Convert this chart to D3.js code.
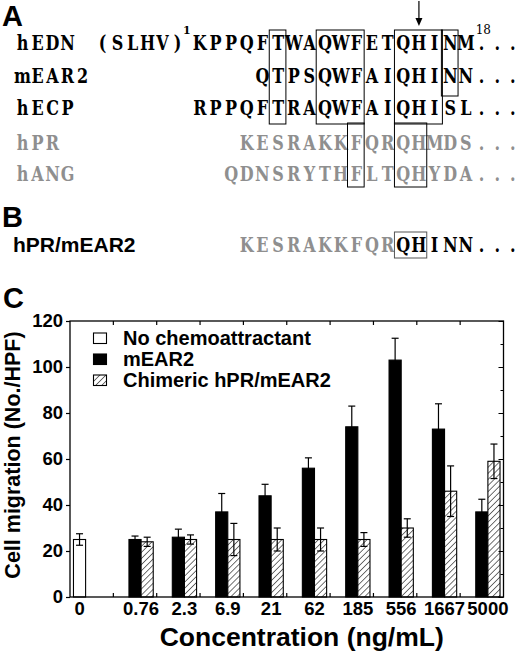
<!DOCTYPE html>
<html><head><meta charset="utf-8">
<script src="https://cdn.jsdelivr.net/npm/d3@7"></script>
<style>body{margin:0;background:#fff}svg{display:block}</style>
</head><body>
<svg id="c" width="520" height="652"></svg>
<script>
// ---------- Panel A / B data ----------
const seqLabels = ["hEDN", "mEAR2", "hECP", "hPR", "hANG"];
const seqStrings = ["KPPQFTWAQWFETQHINM", "QTPSQWFAIQHINN", "RPPQFTRAQWFAIQHISL", "KESRAKKFQRQHMDS", "QDNSRYTHFLTQHYDA"];
const seqStartCol = [0, 4, 0, 3, 2];
const seqGray = [false, false, false, true, true];
const hEDNPrefix = "(SLHV)";
const chimeraLabel = "hPR/mEAR2";
const chimeraGrayPart = "KESRAKKFQR";
const chimeraBlackPart = "QHINN";
const chimeraStartCol = 3;
const boxCols = [[5, 5], [8, 10], [13, 15], [16, 16], [10, 10], [13, 14]];
const boxRows = [[0, 2], [0, 2], [0, 2], [0, 1], [3, 4], [3, 4]];
const chimeraBoxCols = [13, 14];
const arrowCol = 14;

// ---------- Panel C data ----------
const categories = ["0", "0.76", "2.3", "6.9", "21", "62", "185", "556", "1667", "5000"];
const noChemo    = [25, null, null, null, null, null, null, null, null, null];
const noChemoErr = [2.5, null, null, null, null, null, null, null, null, null];
const mEAR2      = [null, 25, 26, 37, 44, 56, 74, 103, 73, 37];
const mEAR2Err   = [null, 1.5, 3.5, 8, 5, 4.5, 9, 9.5, 11, 5.5];
const chimeric   = [null, 24, 25, 25, 25, 25, 25, 30, 46, 59];
const chimericErr= [null, 2, 2, 7, 5, 5, 3, 4, 11, 7.5];
const yTicks = [0, 20, 40, 60, 80, 100, 120];
const yMinorTicks = [10, 30, 50, 70, 90, 110];
const legendLabels = ["No chemoattractant", "mEAR2", "Chimeric hPR/mEAR2"];
const yTitle = "Cell migration (No./HPF)";
const xTitle = "Concentration (ng/mL)";

(function () {
const SANS = "'Liberation Sans', Arial, Helvetica, sans-serif";
const SERIF = "'DejaVu Serif', serif";
const GRAY = "#8f8f8f";
const FS = 20, SX = 0.8;

const svg = d3.select("#c");

// ---------- Panel A ----------
const colX = d3.scaleLinear().domain([0, 1]).range([192, 207.65]);
const rowBase = [50, 83, 115, 150, 181];
const chimeraBase = 252;
const labelCell = d3.scaleLinear().domain([0, 1]).range([15, 30]);
const prefixCell = d3.scaleLinear().domain([0, 1]).range([95, 110]);

function drawChars(g, chars, centerFn, baseline, color) {
  g.selectAll(null).data(chars.split("")).enter().append("text")
    .attr("transform", (d, i) => `translate(${centerFn(i)},${baseline}) scale(${SX},1)`)
    .attr("text-anchor", "middle")
    .attr("font-family", SERIF).attr("font-weight", "bold")
    .attr("font-size", FS).attr("fill", color)
    .text(d => d);
}

const gA = svg.append("g");
gA.append("text").attr("x", 2).attr("y", 26).attr("font-family", SANS).attr("font-weight", "bold")
  .attr("font-size", 29).text("A");

seqLabels.forEach((lab, r) => {
  const color = seqGray[r] ? GRAY : "#000";
  drawChars(gA, lab, i => labelCell(i + 0.5), rowBase[r], color);
  const start = seqStartCol[r];
  drawChars(gA, seqStrings[r] + "...", i => colX(start + i + 0.5), rowBase[r], color);
});
drawChars(gA, hEDNPrefix, i => prefixCell(i + 0.5), rowBase[0], "#000");
gA.append("text").attr("x", 183).attr("y", 34).attr("font-family", SERIF).attr("font-weight", "bold")
  .attr("font-size", 11).text("1");
gA.append("text").attr("x", colX(18) + 2).attr("y", 34).attr("font-family", SERIF)
  .attr("font-size", 12).text("18");

// boxes
const boxTop = { 0: 30, 3: 123 };
const boxBottom = { 1: 96, 2: 124, 4: 187 };
boxCols.forEach((cc, k) => {
  const rr = boxRows[k];
  gA.append("rect")
    .attr("x", colX(cc[0]) - 1).attr("y", boxTop[rr[0]])
    .attr("width", colX(cc[1] + 1) - colX(cc[0]) + 1)
    .attr("height", boxBottom[rr[1]] - boxTop[rr[0]])
    .attr("fill", "none").attr("stroke", "#000").attr("stroke-width", 1);
});
// arrow
const ax = colX(arrowCol + 0.5);
gA.append("line").attr("x1", ax).attr("x2", ax).attr("y1", 1).attr("y2", 20)
  .attr("stroke", "#000").attr("stroke-width", 1.2);
gA.append("path").attr("d", `M${ax - 3.5},18 L${ax + 3.5},18 L${ax},26 Z`).attr("fill", "#000");

// ---------- Panel B ----------
const gB = svg.append("g");
gB.append("text").attr("x", 2).attr("y", 227).attr("font-family", SANS).attr("font-weight", "bold")
  .attr("font-size", 29).text("B");
gB.append("text").attr("x", 13).attr("y", chimeraBase).attr("font-family", SANS).attr("font-weight", "bold")
  .attr("font-size", 21).text(chimeraLabel);
drawChars(gB, chimeraGrayPart, i => colX(chimeraStartCol + i + 0.5), chimeraBase, GRAY);
drawChars(gB, chimeraBlackPart + "...", i => colX(chimeraStartCol + chimeraGrayPart.length + i + 0.5), chimeraBase, "#000");
gB.append("rect").attr("x", colX(chimeraBoxCols[0]) - 1).attr("y", 232)
  .attr("width", colX(chimeraBoxCols[1] + 1) - colX(chimeraBoxCols[0]) + 1).attr("height", 26)
  .attr("fill", "none").attr("stroke", "#555").attr("stroke-width", 1);

// ---------- Panel C ----------
const gC = svg.append("g");
gC.append("text").attr("x", 3).attr("y", 308).attr("font-family", SANS).attr("font-weight", "bold")
  .attr("font-size", 29).text("C");

const defs = svg.append("defs");
const pat = defs.append("pattern").attr("id", "hatch").attr("patternUnits", "userSpaceOnUse")
  .attr("width", 4.3).attr("height", 4.3).attr("patternTransform", "rotate(45)");
pat.append("rect").attr("width", 4.3).attr("height", 4.3).attr("fill", "#fff");
pat.append("line").attr("x1", 0).attr("y1", 0).attr("x2", 0).attr("y2", 4.3)
  .attr("stroke", "#000").attr("stroke-width", 1.1);

const pLeft = 70, pRight = 503.5, pTop = 321, pBottom = 597;
const x0 = d3.scaleBand().domain(categories).range([pLeft, pRight]);
const bw = x0.bandwidth();
const xs = d3.scaleBand().domain(["none", "mEAR2", "chim"]).range([bw * 0.08, bw * 0.92]);
const y = d3.scaleLinear().domain([0, 120]).range([pBottom, pTop]);

const series = [
  { key: "none", values: noChemo, err: noChemoErr, fill: "#fff" },
  { key: "mEAR2", values: mEAR2, err: mEAR2Err, fill: "#000" },
  { key: "chim", values: chimeric, err: chimericErr, fill: "url(#hatch)" }
];
const barData = [];
series.forEach(s => categories.forEach((c, i) => {
  if (s.values[i] != null) barData.push({ cat: c, key: s.key, v: s.values[i], e: s.err[i], fill: s.fill });
}));

gC.selectAll("rect.bar").data(barData).enter().append("rect").attr("class", "bar")
  .attr("x", d => x0(d.cat) + xs(d.key))
  .attr("y", d => y(d.v))
  .attr("width", xs.bandwidth())
  .attr("height", d => y(0) - y(d.v))
  .attr("fill", d => d.fill).attr("stroke", "#000").attr("stroke-width", 1.1);

const capW = 3.5;
const cx = d => x0(d.cat) + xs(d.key) + xs.bandwidth() / 2;
const eb = gC.selectAll("g.err").data(barData).enter().append("g").attr("class", "err")
  .attr("stroke", "#000").attr("stroke-width", 1.2);
eb.append("line").attr("x1", cx).attr("x2", cx)
  .attr("y1", d => y(d.v - d.e)).attr("y2", d => y(d.v + d.e));
eb.append("line").attr("x1", d => cx(d) - capW).attr("x2", d => cx(d) + capW)
  .attr("y1", d => y(d.v + d.e)).attr("y2", d => y(d.v + d.e));
eb.append("line").attr("x1", d => cx(d) - capW).attr("x2", d => cx(d) + capW)
  .attr("y1", d => y(d.v - d.e)).attr("y2", d => y(d.v - d.e));

// frame
gC.append("rect").attr("x", pLeft).attr("y", pTop).attr("width", pRight - pLeft).attr("height", pBottom - pTop)
  .attr("fill", "none").attr("stroke", "#000").attr("stroke-width", 1.3);

// y axis left
const yAx = gC.append("g").attr("transform", `translate(${pLeft},0)`)
  .call(d3.axisLeft(y).tickValues(yTicks).tickSize(4).tickPadding(3).tickFormat(d3.format("d")));
yAx.select(".domain").remove();
yAx.selectAll("line").attr("stroke-width", 1.2);
yAx.selectAll("text").attr("font-family", SANS).attr("font-weight", "bold").attr("font-size", 18.5)
  .attr("fill", "#000");
// right inner ticks
const yR = gC.append("g").attr("transform", `translate(${pRight},0)`)
  .call(d3.axisLeft(y).tickValues(yTicks).tickSize(5).tickFormat(""));
yR.select(".domain").remove();
const yR2 = gC.append("g").attr("transform", `translate(${pRight},0)`)
  .call(d3.axisLeft(y).tickValues(yMinorTicks).tickSize(3).tickFormat(""));
yR2.select(".domain").remove();

// category boundary ticks (top & bottom)
const bounds = categories.slice(1).map(c => x0(c));
gC.selectAll("line.bt").data(bounds).enter().append("line")
  .attr("x1", d => d).attr("x2", d => d).attr("y1", pBottom).attr("y2", pBottom - 4)
  .attr("stroke", "#000").attr("stroke-width", 1.2);
gC.selectAll("line.tt").data(bounds).enter().append("line")
  .attr("x1", d => d).attr("x2", d => d).attr("y1", pTop).attr("y2", pTop + 4)
  .attr("stroke", "#000").attr("stroke-width", 1.2);

// x labels
const labelX = categories.map(c => d3.mean(barData.filter(d => d.cat === c).map(cx)));
gC.selectAll("text.xl").data(categories).enter().append("text")
  .attr("x", (d, i) => labelX[i]).attr("y", 615).attr("text-anchor", "middle")
  .attr("font-family", SANS).attr("font-weight", "bold").attr("font-size", 18.5).text(d => d);

// titles
gC.append("text").attr("x", (pLeft + pRight) / 2 + 15).attr("y", 646).attr("text-anchor", "middle")
  .attr("font-family", SANS).attr("font-weight", "bold").attr("font-size", 26.5).text(xTitle);
gC.append("text").attr("transform", `translate(20,${(pTop + pBottom) / 2 - 4}) rotate(-90)`)
  .attr("text-anchor", "middle").attr("font-family", SANS).attr("font-weight", "bold")
  .attr("font-size", 21.5).text(yTitle);

// legend
const legFills = ["#fff", "#000", "url(#hatch)"];
const legY = [345, 366, 387];
legendLabels.forEach((t, i) => {
  gC.append("rect").attr("x", 93.5).attr("y", legY[i] - 12).attr("width", 13).attr("height", 10.5)
    .attr("fill", legFills[i]).attr("stroke", "#000").attr("stroke-width", 1.1);
  gC.append("text").attr("x", 123).attr("y", legY[i]).attr("font-family", SANS)
    .attr("font-weight", "bold").attr("font-size", 20).text(t);
});
})();
</script>
</body></html>
